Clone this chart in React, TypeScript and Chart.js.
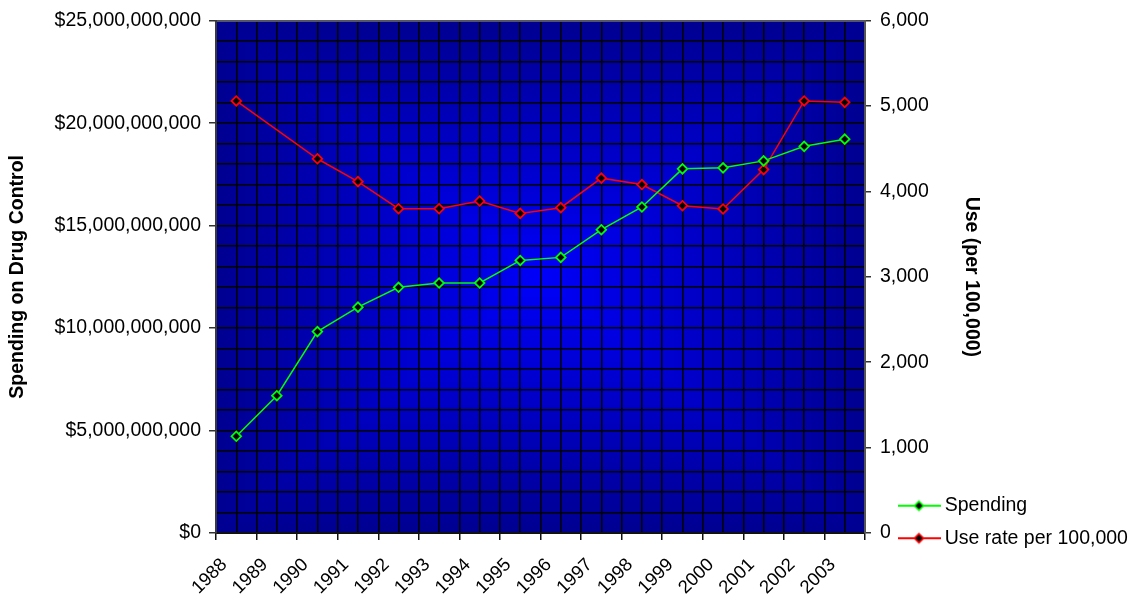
import React, { useEffect, useRef } from 'react';
import { Chart, registerables } from 'chart.js';

Chart.register(...registerables);

// ---- data ----
const years = ['1988', '1989', '1990', '1991', '1992', '1993', '1994', '1995', '1996', '1997', '1998', '1999', '2000', '2001', '2002', '2003'];
const spending = [4.72e9, 6.70e9, 9.83e9, 11.02e9, 11.99e9, 12.2e9, 12.2e9, 13.3e9, 13.45e9, 14.8e9, 15.91e9, 17.77e9, 17.82e9, 18.16e9, 18.87e9, 19.22e9];
const useRate = [5060, null, 4383, 4115, 3798, 3798, 3888, 3743, 3810, 4156, 4081, 3833, 3795, 4256, 5060, 5044];
const seriesNames = ['Spending', 'Use rate per 100,000'];
const leftAxisTitle = 'Spending on Drug Control';
const rightAxisTitle = 'Use (per 100,000)';

const FONT = "'Liberation Sans', Arial, Helvetica, sans-serif";
const GREEN = '#00ff00';
const RED = '#ff0000';

function makeLegendIcon(color: string): HTMLCanvasElement {
  const c = document.createElement('canvas');
  c.width = 43;
  c.height = 14;
  const g = c.getContext('2d')!;
  g.strokeStyle = color;
  g.lineWidth = 2;
  g.beginPath();
  g.moveTo(0, 7);
  g.lineTo(43, 7);
  g.stroke();
  g.beginPath();
  g.moveTo(21.5, 2.5);
  g.lineTo(26, 7);
  g.lineTo(21.5, 11.5);
  g.lineTo(17, 7);
  g.closePath();
  g.fillStyle = '#000';
  g.fill();
  g.lineWidth = 1.6;
  g.stroke();
  return c;
}

const plotBackground = {
  id: 'plotBackground',
  beforeDraw(chart: any) {
    const { ctx, chartArea: a } = chart;
    if (!a) return;
    const cx = (a.left + a.right) / 2;
    const cy = (a.top + a.bottom) / 2;
    const W = a.right - a.left;
    const H = a.bottom - a.top;
    const N = 90;
    ctx.save();
    for (let i = 0; i < N; i++) {
      const f = 1 - i / N;
      const b = Math.round(250 - (250 - 145) * f);
      ctx.fillStyle = `rgb(0,0,${b})`;
      ctx.fillRect(cx - (W * f) / 2, cy - (H * f) / 2, W * f, H * f);
    }
    ctx.restore();
  },
};

const legendPlacement = {
  id: 'legendPlacement',
  afterLayout(chart: any) {
    const lg = chart.legend;
    if (!lg) return;
    lg.left = 890;
    lg.top = 483;
    lg.right = 1133;
    lg.bottom = 596;
    lg.width = 243;
    lg.height = 113;
  },
};

export default function App() {
  const ref = useRef<HTMLCanvasElement>(null);

  useEffect(() => {
    if (!ref.current) return;
    const icons = [makeLegendIcon(GREEN), makeLegendIcon(RED)];
    const tickFont = { family: FONT, size: 19.5 };
    const titleFont = { family: FONT, size: 19.5, weight: 'bold' as const };

    const chart = new Chart(ref.current, {
      type: 'line',
      data: {
        labels: years,
        datasets: [
          {
            label: seriesNames[0],
            data: spending,
            xAxisID: 'x',
            yAxisID: 'y',
            borderColor: GREEN,
            backgroundColor: GREEN,
            borderWidth: 1.5,
            pointStyle: 'rectRot',
            pointRadius: 4.8,
            pointBorderWidth: 1.8,
            pointBackgroundColor: '#000',
            pointBorderColor: GREEN,
            tension: 0,
            fill: false,
          },
          {
            label: seriesNames[1],
            data: useRate,
            xAxisID: 'x',
            yAxisID: 'y1',
            borderColor: RED,
            backgroundColor: RED,
            borderWidth: 1.5,
            pointStyle: 'rectRot',
            pointRadius: 4.8,
            pointBorderWidth: 1.8,
            pointBackgroundColor: '#000',
            pointBorderColor: RED,
            tension: 0,
            spanGaps: true,
            fill: false,
          },
        ],
      },
      options: {
        responsive: false,
        animation: false,
        devicePixelRatio: 1,
        events: [],
        layout: { padding: { left: 0, right: 146, top: 18, bottom: 0 } },
        plugins: {
          tooltip: { enabled: false },
          title: { display: false },
          legend: {
            display: true,
            position: 'chartArea' as any,
            align: 'start',
            labels: {
              usePointStyle: true,
              pointStyleWidth: 32,
              padding: 13,
              color: '#000',
              font: { family: FONT, size: 19.5 },
              generateLabels: (ch: any) => {
                const items = (Chart.defaults.plugins.legend.labels as any).generateLabels(ch);
                items.forEach((it: any) => {
                  it.pointStyle = icons[it.datasetIndex];
                });
                return items;
              },
            },
          },
        },
        scales: {
          xg: {
            type: 'linear',
            position: 'top',
            min: 0,
            max: 32,
            ticks: { display: false, stepSize: 1 },
            grid: { color: '#000', lineWidth: 1.5, drawTicks: false },
            border: { display: true, color: '#55556a', width: 2 },
            afterFit: (s: any) => {
              s.height = 0;
            },
          },
          yg: {
            type: 'linear',
            position: 'left',
            min: 0,
            max: 25,
            ticks: { display: false, stepSize: 1 },
            grid: { color: '#000', lineWidth: 1.5, drawTicks: false },
            border: { display: false },
            afterFit: (s: any) => {
              s.width = 0;
            },
          },
          x: {
            type: 'category',
            position: 'bottom',
            offset: true,
            grid: { offset: true, drawOnChartArea: false, drawTicks: true, tickLength: 7, color: '#111', lineWidth: 1.5 },
            border: { display: true, color: '#111', width: 2 },
            ticks: {
              autoSkip: false,
              minRotation: 45,
              maxRotation: 45,
              padding: 14,
              labelOffset: -12,
              color: '#000',
              font: { family: FONT, size: 18.5 },
            },
            afterFit: (s: any) => {
              s.height = 63;
            },
          },
          y: {
            type: 'linear',
            position: 'left',
            min: 0,
            max: 25e9,
            ticks: {
              stepSize: 5e9,
              padding: 8,
              color: '#000',
              font: tickFont,
              callback: (v: any) => '$' + Number(v).toLocaleString('en-US'),
            },
            grid: { drawOnChartArea: false, drawTicks: true, tickLength: 7, color: '#333', lineWidth: 1.5 },
            border: { display: true, color: '#3a3a3a', width: 2 },
            title: {
              display: true,
              text: leftAxisTitle,
              color: '#000',
              font: titleFont,
              padding: { top: 6, bottom: 0 },
            },
            afterFit: (s: any) => {
              s.width = 216;
            },
          },
          y1: {
            type: 'linear',
            position: 'right',
            min: 0,
            max: 6000,
            ticks: {
              stepSize: 1000,
              padding: 9,
              color: '#000',
              font: tickFont,
              callback: (v: any) => Number(v).toLocaleString('en-US'),
            },
            grid: { drawOnChartArea: false, drawTicks: true, tickLength: 6, color: '#333', lineWidth: 1.5 },
            border: { display: true, color: '#555', width: 2 },
            title: {
              display: true,
              text: rightAxisTitle,
              color: '#000',
              font: titleFont,
              padding: { top: 4, bottom: 0 },
            },
            afterFit: (s: any) => {
              s.width = 122;
            },
          },
        },
      } as any,
      plugins: [plotBackground, legendPlacement],
    });

    return () => chart.destroy();
  }, []);

  return (
    <div style={{ position: 'absolute', left: 0, top: 0, width: 1133, height: 596, background: '#fff' }}>
      <canvas ref={ref} width={1133} height={596} style={{ display: 'block' }} />
    </div>
  );
}
